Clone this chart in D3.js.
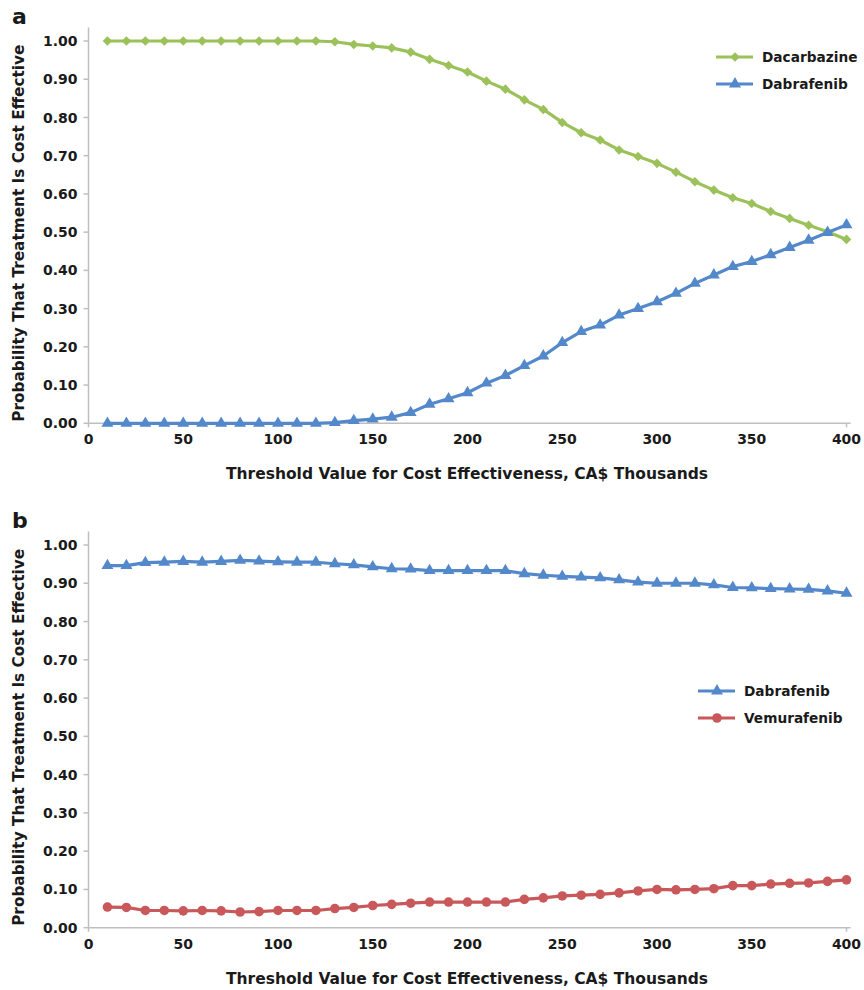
<!doctype html>
<html>
<head>
<meta charset="utf-8">
<title>Cost-effectiveness acceptability curves</title>
<script src="https://d3js.org/d3.v7.min.js"></script>
<style>
  html, body { margin: 0; padding: 0; background: #fff; }
  svg text { font-family: "DejaVu Sans", "Liberation Sans", Arial, sans-serif; font-weight: bold; fill: #1a1a1a; }
</style>
</head>
<body>
<svg id="chart" width="864" height="990"></svg>
<script>
// threshold values (CA$ thousands)
var thresholds = [10, 20, 30, 40, 50, 60, 70, 80, 90, 100, 110, 120, 130, 140, 150, 160, 170, 180, 190, 200,
                  210, 220, 230, 240, 250, 260, 270, 280, 290, 300, 310, 320, 330, 340, 350, 360, 370, 380, 390, 400];

// panel a
var dacarbazineA = [1.000, 1.000, 1.000, 1.000, 1.000, 1.000, 1.000, 1.000, 1.000, 1.000, 1.000, 1.000, 0.998, 0.991, 0.987, 0.982, 0.971, 0.952, 0.936, 0.919,
                    0.895, 0.874, 0.846, 0.821, 0.787, 0.760, 0.741, 0.715, 0.698, 0.680, 0.657, 0.632, 0.610, 0.590, 0.575, 0.554, 0.536, 0.518, 0.501, 0.481];
var dabrafenibA = [0.000, 0.000, 0.000, 0.000, 0.000, 0.000, 0.000, 0.000, 0.000, 0.000, 0.000, 0.000, 0.002, 0.007, 0.011, 0.016, 0.028, 0.050, 0.064, 0.080,
                   0.105, 0.125, 0.151, 0.176, 0.211, 0.240, 0.257, 0.283, 0.300, 0.318, 0.340, 0.366, 0.388, 0.410, 0.423, 0.441, 0.460, 0.479, 0.499, 0.519];

// panel b
var dabrafenibB = [0.946, 0.946, 0.954, 0.955, 0.957, 0.955, 0.957, 0.960, 0.958, 0.956, 0.955, 0.955, 0.951, 0.948, 0.943, 0.938, 0.937, 0.933, 0.933, 0.933,
                   0.933, 0.933, 0.925, 0.921, 0.918, 0.916, 0.914, 0.909, 0.903, 0.900, 0.900, 0.900, 0.896, 0.889, 0.888, 0.886, 0.885, 0.884, 0.880, 0.874];
var vemurafenibB = [0.054, 0.053, 0.045, 0.045, 0.044, 0.045, 0.044, 0.041, 0.042, 0.045, 0.045, 0.045, 0.050, 0.053, 0.058, 0.061, 0.064, 0.067, 0.067, 0.067,
                    0.067, 0.067, 0.074, 0.078, 0.083, 0.085, 0.087, 0.091, 0.096, 0.100, 0.099, 0.100, 0.102, 0.110, 0.110, 0.114, 0.116, 0.117, 0.121, 0.125];

var xTicks = [0, 50, 100, 150, 200, 250, 300, 350, 400];
var yTicks = [0, 0.1, 0.2, 0.3, 0.4, 0.5, 0.6, 0.7, 0.8, 0.9, 1.0];

var xTitle = "Threshold Value for Cost Effectiveness, CA$ Thousands";
var yTitle = "Probability That Treatment Is Cost Effective";

var green = "#9cc15a", blue = "#5388cb", red = "#c9585a", axisGrey = "#bfbfbf";

var svg = d3.select("#chart");

var x = d3.scaleLinear().domain([0, 400]).range([88.5, 846.5]);

var markers = {
    diamond: d3.symbol().type(d3.symbolSquare).size(46),
    triangle: d3.symbol().type(d3.symbolTriangle).size(62),
    circle: d3.symbol().type(d3.symbolCircle).size(72)
};

function drawPanel(letter, yBottom, yTop, series, legendX, legendY) {
    var y = d3.scaleLinear().domain([0, 1]).range([yBottom, yTop]);
    var g = svg.append("g");

    // panel letter
    g.append("text").attr("x", 12).attr("y", yTop - 17)
        .style("font-size", "22px").text(letter);

    // y axis line + ticks
    g.append("line").attr("x1", x(0)).attr("x2", x(0))
        .attr("y1", y(1.035)).attr("y2", yBottom + 4)
        .attr("stroke", axisGrey).attr("stroke-width", 1.5);
    g.selectAll(".ytick").data(yTicks).enter().append("line")
        .attr("x1", x(0) - 5).attr("x2", x(0))
        .attr("y1", d => y(d)).attr("y2", d => y(d))
        .attr("stroke", axisGrey).attr("stroke-width", 1.5);
    g.selectAll(".ylab").data(yTicks).enter().append("text")
        .attr("x", x(0) - 11).attr("y", d => y(d)).attr("dy", "0.36em")
        .attr("text-anchor", "end").style("font-size", "14px")
        .text(d => d3.format(".2f")(d));

    // x axis line + end tick
    g.append("line").attr("x1", x(0)).attr("x2", x(400) + 4)
        .attr("y1", yBottom).attr("y2", yBottom)
        .attr("stroke", axisGrey).attr("stroke-width", 1.5);
    g.append("line").attr("x1", x(400)).attr("x2", x(400))
        .attr("y1", yBottom).attr("y2", yBottom + 4)
        .attr("stroke", axisGrey).attr("stroke-width", 1.5);
    g.selectAll(".xlab").data(xTicks).enter().append("text")
        .attr("x", d => x(d)).attr("y", yBottom + 21)
        .attr("text-anchor", "middle").style("font-size", "14px")
        .text(d => d);

    // axis titles
    g.append("text").attr("x", 467).attr("y", yBottom + 56)
        .attr("text-anchor", "middle").style("font-size", "15.5px").text(xTitle);
    g.append("text")
        .attr("transform", `translate(24, ${(yTop + yBottom) / 2 + 1}) rotate(-90)`)
        .attr("text-anchor", "middle").style("font-size", "15.3px").text(yTitle);

    var line = d3.line().x((d, i) => x(thresholds[i])).y(d => y(d));

    series.forEach(function(s, k) {
        g.append("path").datum(s.values)
            .attr("d", line).attr("fill", "none")
            .attr("stroke", s.color).attr("stroke-width", 3.2)
            .attr("stroke-linejoin", "round");
        g.selectAll(".m" + k).data(s.values).enter().append("path")
            .attr("d", markers[s.marker])
            .attr("transform", (d, i) => `translate(${x(thresholds[i])},${y(d)})` + (s.marker == "diamond" ? " rotate(45)" : ""))
            .attr("fill", s.color);

        // legend entry
        var ly = legendY + k * 27;
        g.append("line").attr("x1", legendX).attr("x2", legendX + 37)
            .attr("y1", ly).attr("y2", ly)
            .attr("stroke", s.color).attr("stroke-width", 3.2);
        g.append("path").attr("d", markers[s.marker])
            .attr("transform", `translate(${legendX + 19},${ly})` + (s.marker == "diamond" ? " rotate(45)" : ""))
            .attr("fill", s.color);
        g.append("text").attr("x", legendX + 46).attr("y", ly).attr("dy", "0.36em")
            .style("font-size", "13.7px").text(s.name);
    });
}

drawPanel("a", 423.3, 41, [
    {name: "Dacarbazine", values: dacarbazineA, color: green, marker: "diamond"},
    {name: "Dabrafenib", values: dabrafenibA, color: blue, marker: "triangle"}
], 716, 57);

drawPanel("b", 927.7, 545, [
    {name: "Dabrafenib", values: dabrafenibB, color: blue, marker: "triangle"},
    {name: "Vemurafenib", values: vemurafenibB, color: red, marker: "circle"}
], 698, 691);
</script>
</body>
</html>
